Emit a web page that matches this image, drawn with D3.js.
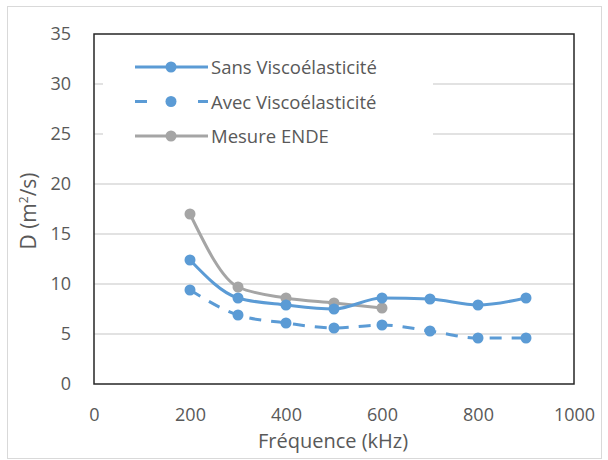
<!DOCTYPE html>
<html><head><meta charset="utf-8">
<script src="https://cdn.jsdelivr.net/npm/d3@7"></script>
<style>body{margin:0;background:#fff;} text{font-family:"Open Sans", sans-serif;}</style>
</head><body>
<svg id="c" width="608" height="460"></svg>
<script>
const freqs = [200,300,400,500,600,700,800,900];
const sansVisco = [12.4,8.6,7.9,7.5,8.6,8.5,7.9,8.6];
const avecVisco = [9.4,6.9,6.1,5.6,5.9,5.3,4.6,4.6];
const endeFreqs = [200,300,400,500,600];
const mesureEnde = [17.0,9.7,8.6,8.1,7.6];
const xTicks = [0,200,400,600,800,1000];
const yTicks = [0,5,10,15,20,25,30,35];
const seriesNames = ["Sans Viscoélasticité","Avec Viscoélasticité","Mesure ENDE"];

const svg = d3.select("#c");
const blue = "#5b9bd5", gray = "#a5a5a5", txt = "#595959";
svg.append("rect").attr("x",7.5).attr("y",6.5).attr("width",594).attr("height",452)
  .attr("fill","#fff").attr("stroke","#d9d9d9");

const x = d3.scaleLinear().domain([0,1000]).range([94,574]);
const y = d3.scaleLinear().domain([0,35]).range([384,34]);

// gridlines
svg.append("g").selectAll("line").data(yTicks.filter(d=>d>0&&d<35)).join("line")
  .attr("x1",94).attr("x2",574).attr("y1",d=>y(d)).attr("y2",d=>y(d))
  .attr("stroke","#d9d9d9").attr("stroke-width",1.5);

// legend background
svg.append("rect").attr("x",103).attr("y",42).attr("width",330).attr("height",120).attr("fill","#fff");

// frame
svg.append("rect").attr("x",94).attr("y",34).attr("width",480).attr("height",350)
  .attr("fill","none").attr("stroke","#262626").attr("stroke-width",1.5);

// axes
const fmt = d3.format("d");
const yAxis = d3.axisLeft(y).tickValues(yTicks).tickFormat(fmt).tickSize(0).tickPadding(23);
const gy = svg.append("g").attr("transform","translate(94,0)").call(yAxis);
gy.select(".domain").remove();
gy.selectAll("text").attr("fill",txt).style("font-size","18px");
const xAxis = d3.axisBottom(x).tickValues(xTicks).tickFormat(fmt).tickSize(0).tickPadding(24);
const gx = svg.append("g").attr("transform","translate(0,384)").call(xAxis);
gx.select(".domain").remove();
gx.selectAll("text").attr("fill",txt).style("font-size","18px");

svg.append("text").attr("x",333).attr("y",448).attr("text-anchor","middle")
  .attr("fill",txt).style("font-size","20px").text("Fréquence (kHz)");
const yt = svg.append("text").attr("transform","translate(36,211) rotate(-90)")
  .attr("text-anchor","middle").attr("fill",txt).style("font-size","21px");
yt.append("tspan").text("D (m");
yt.append("tspan").attr("dy",-8).style("font-size","12px").text("2");
yt.append("tspan").attr("dy",8).text("/s)");

const curve = d3.curveMonotoneX;
function drawSeries(xs, ys, color, dash){
  const pts = xs.map((f,i)=>[x(f),y(ys[i])]);
  svg.append("path").attr("d",d3.line().curve(curve)(pts)).attr("fill","none")
    .attr("stroke",color).attr("stroke-width",3).attr("stroke-linecap","butt")
    .attr("stroke-dasharray",dash||null);
  svg.append("g").selectAll("circle").data(pts).join("circle")
    .attr("cx",d=>d[0]).attr("cy",d=>d[1]).attr("r",5.5).attr("fill",color);
}
drawSeries(endeFreqs, mesureEnde, gray);
drawSeries(freqs, sansVisco, blue);
drawSeries(freqs, avecVisco, blue, "12,10");

// legend
const leg = [{c:blue,d:null},{c:blue,d:"10,18"},{c:gray,d:null}];
leg.forEach((l,i)=>{
  const ly = 67 + i*34.5;
  if(l.d){
    svg.append("line").attr("x1",135).attr("x2",147).attr("y1",ly).attr("y2",ly).attr("stroke",l.c).attr("stroke-width",3);
    svg.append("line").attr("x1",198).attr("x2",208).attr("y1",ly).attr("y2",ly).attr("stroke",l.c).attr("stroke-width",3);
  } else {
    svg.append("line").attr("x1",135).attr("x2",208).attr("y1",ly).attr("y2",ly).attr("stroke",l.c).attr("stroke-width",3);
  }
  svg.append("circle").attr("cx",171).attr("cy",ly).attr("r",5.5).attr("fill",l.c);
  svg.append("text").attr("x",211).attr("y",ly+7).attr("fill",txt).style("font-size","18.5px").text(seriesNames[i]);
});
</script>
</body></html>
